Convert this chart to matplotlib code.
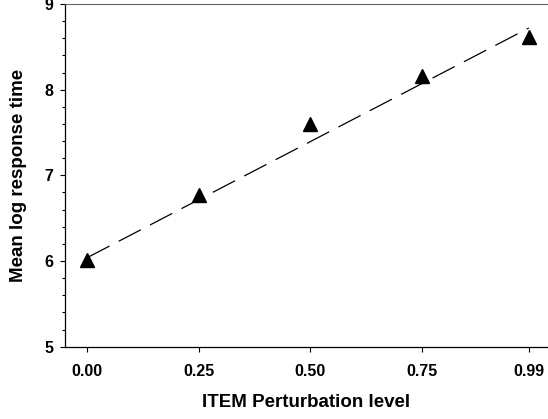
import numpy as np
import matplotlib
matplotlib.use("Agg")
import matplotlib.pyplot as plt
from matplotlib.ticker import MultipleLocator

# Data
levels = [0.00, 0.25, 0.50, 0.75, 0.99]
tick_labels = ["0.00", "0.25", "0.50", "0.75", "0.99"]
mean_log_rt = [6.01, 6.77, 7.60, 8.16, 8.62]
# fitted trend line (endpoints)
fit_x = [0.00, 0.99]
fit_y = [6.04, 8.72]

plt.rcParams['font.family'] = ['Liberation Sans', 'DejaVu Sans']

fig = plt.figure(figsize=(5.48, 4.19), dpi=100)
ax = fig.add_axes([65/548, 1-346.7/419, 1-65/548, (346.7-4)/419])

ax.plot(fit_x, fit_y, color='black', lw=0.9, dashes=(20, 8.3))
ax.plot(levels, mean_log_rt, linestyle='none', marker='^', ms=10, color='black')

ax.set_xlim(-0.050, 1.033)
ax.set_ylim(5, 9)
ax.set_xticks(levels)
ax.set_xticklabels(tick_labels)
ax.yaxis.set_major_locator(MultipleLocator(1))
ax.yaxis.set_minor_locator(MultipleLocator(0.2))
ax.tick_params(axis='both', which='major', direction='out', length=3.6, width=0.8,
               labelsize=11.5, pad=5)
ax.tick_params(axis='x', which='major', pad=9)
ax.tick_params(axis='y', which='minor', direction='out', length=2.4, width=0.8)
for lab in ax.get_xticklabels() + ax.get_yticklabels():
    lab.set_fontweight('bold')

ax.spines['right'].set_visible(False)
ax.spines['top'].set_color('#666666')
ax.spines['top'].set_linewidth(0.8)
ax.spines['left'].set_linewidth(0.9)
ax.spines['bottom'].set_linewidth(0.9)

ax.set_xlabel("ITEM Perturbation level", fontsize=13.5, fontweight='bold', labelpad=11)
ax.set_ylabel("Mean log response time", fontsize=13.5, fontweight='bold', labelpad=12)

fig.savefig("out.png", dpi=100)
